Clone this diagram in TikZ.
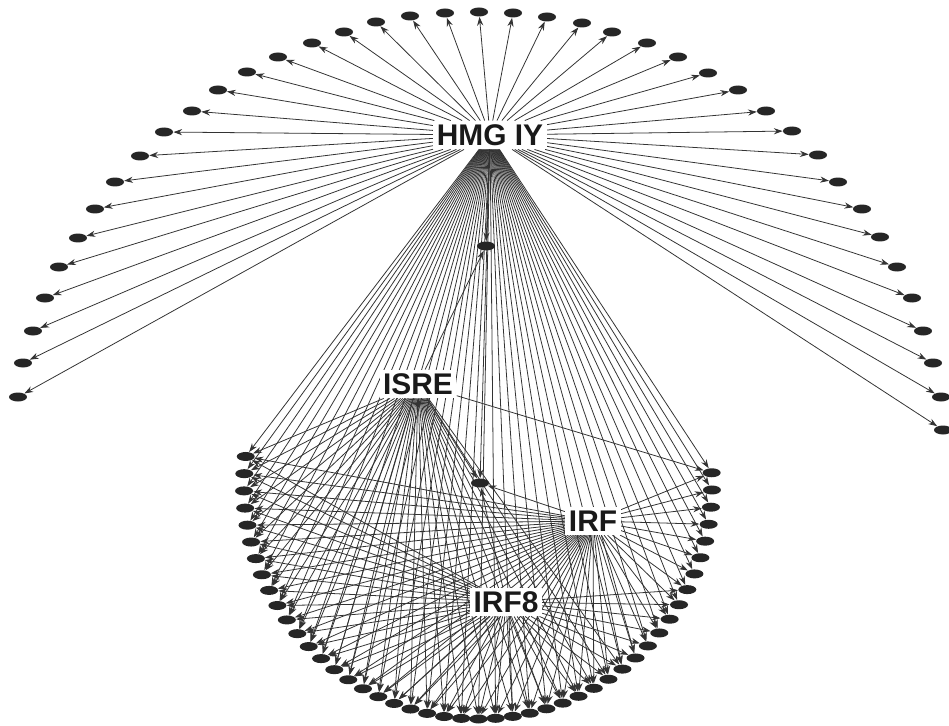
\documentclass[tikz,border=0pt]{standalone}
\usepackage{fontspec}
\setmainfont{Liberation Sans}
\usetikzlibrary{calc}
\usetikzlibrary{arrows.meta}
\usetikzlibrary{shapes.geometric}
\pgfdeclarelayer{bg}
\pgfsetlayers{bg,main}
\tikzset{
  gene/.style={ellipse,fill=black!85,draw=none,minimum width=0.36cm,minimum height=0.18cm,inner sep=0pt},
  hub/.style={fill=white,inner sep=2pt,font=\fontsize{17}{17}\selectfont\bfseries,text=black!90},
  link/.style={draw=black!80,line width=0.45pt,-{Stealth[length=5pt,width=3.5pt]}}
}

\begin{document}
\begin{tikzpicture}[x=0.02cm,y=-0.02cm]
\useasboundingbox (0,0) rectangle (949,726);
\node[hub] (hmg) at (490,135) {HMG IY};
\node[hub] (isre) at (418,384) {ISRE};
\node[hub] (irf) at (593,521) {IRF};
\node[hub] (irf8) at (506,602) {IRF8};
\node[gene] (m1) at (486,246) {};
\node[gene] (m2) at (480,483) {};
% upper arc
\foreach \x/\y [count=\i] in {18/397,23/363,33/331,45/298,59/267,78/238,95/209,115/182,
  140/156,164/132,192/111,218/90,247/72,278/57,312/43,344/32,376/22,410/16,445/13,479/12,
  513/13,547/17,582/23,612/32,647/43,678/57,708/73,738/90,766/111,792/131,
  818/155,838/182,862/209,880/237,897/267,912/298,923/331,933/363,941/397,943/430}
  \node[gene] (u\i) at (\x,\y) {};
% lower arc
\foreach \i in {0,...,45}
  \node[gene] (l\i) at ($(478,485)+({187-\i*4.2222}:234)$) {};
\begin{pgfonlayer}{bg}
\foreach \i in {1,...,40} \draw[link] (hmg) -- (u\i);
\foreach \i in {0,...,45} {
  \draw[link] (hmg) -- (l\i);
  \draw[link] (irf) -- (l\i);
}
\foreach \i in {0,...,38} \draw[link] (irf8) -- (l\i);
\foreach \i in {0,...,32,45} \draw[link] (isre) -- (l\i);
\draw[link] (hmg) -- (m1);
\draw[link] (isre) -- (m1);
\draw[link] (hmg) -- (m2);
\draw[link] (isre) -- (m2);
\draw[link] (irf) -- (m2);
\draw[link] (irf8) -- (m2);
\end{pgfonlayer}
\end{tikzpicture}
\end{document}
